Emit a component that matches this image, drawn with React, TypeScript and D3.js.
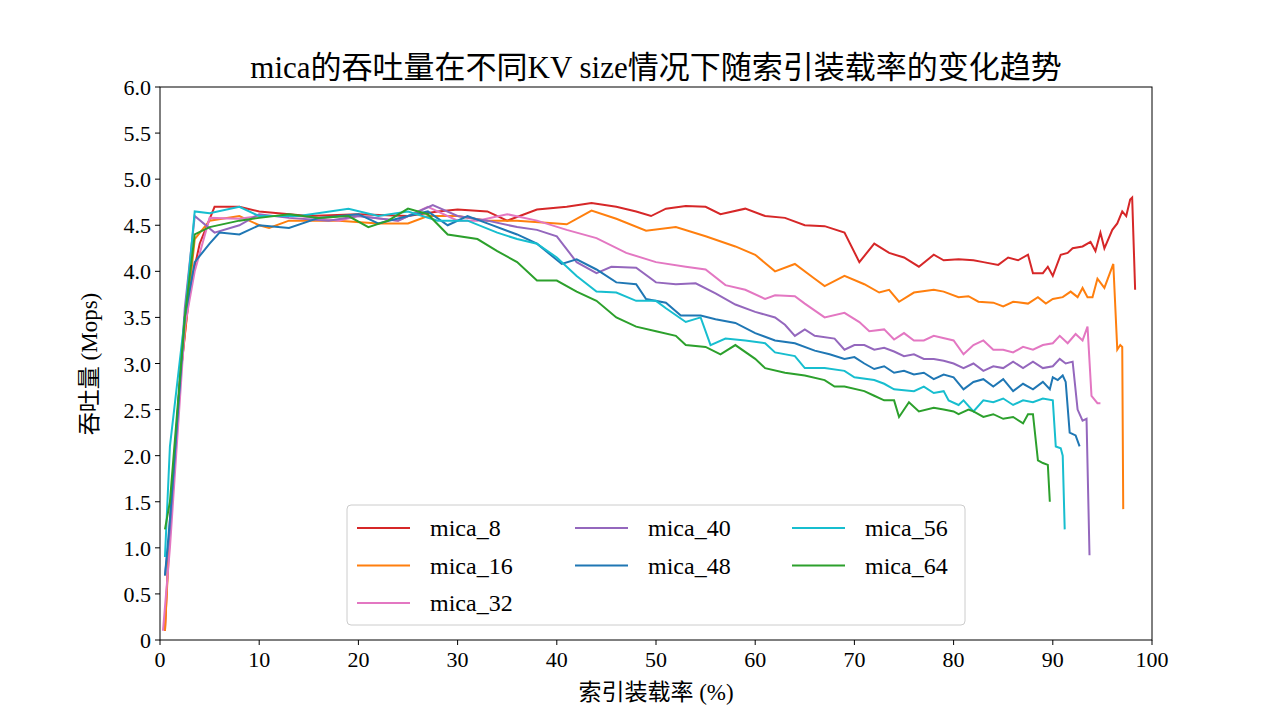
import React from 'react';
import * as d3 from 'd3';

type Pt = [number, number];

const mica8: Pt[] = [[0.5,0.1],[1,1.3],[2,2.8],[3,3.8],[4,4.3],[5.5,4.7],[8,4.7],[10,4.65],[15,4.6],[20,4.62],[25,4.6],[28,4.65],[30,4.67],[33,4.65],[35,4.55],[38,4.67],[41,4.7],[43.5,4.74],[46,4.7],[48,4.65],[49.5,4.6],[51,4.68],[53,4.71],[55,4.7],[56.5,4.62],[59,4.68],[61,4.6],[63,4.58],[65,4.5],[67,4.49],[69,4.42],[70.5,4.1],[72,4.3],[73.5,4.2],[75,4.15],[76.5,4.05],[78,4.18],[79,4.12],[80.5,4.13],[82,4.12],[83,4.1],[84.5,4.07],[85.5,4.15],[86.5,4.12],[87.5,4.18],[88,3.98],[89,3.98],[89.5,4.05],[90,3.95],[90.8,4.18],[91.5,4.2],[92,4.25],[93,4.27],[93.8,4.32],[94.3,4.22],[94.8,4.42],[95.2,4.25],[96,4.45],[96.5,4.52],[97,4.65],[97.4,4.6],[97.8,4.78],[98,4.8],[98.3,3.8]];
const mica16: Pt[] = [[0.5,0.1],[1,1.2],[2,2.8],[3.5,4.35],[5,4.55],[8,4.6],[10,4.5],[11,4.47],[13,4.55],[18,4.55],[22,4.52],[25,4.52],[27,4.6],[30,4.6],[33,4.55],[36,4.55],[40,4.52],[41,4.51],[43.5,4.66],[46,4.57],[49,4.44],[52,4.48],[55,4.38],[58,4.27],[60,4.18],[62,4.0],[64,4.08],[66,3.92],[67,3.84],[69,3.95],[71,3.86],[72.5,3.77],[73.5,3.8],[74.5,3.67],[76,3.77],[78,3.8],[79,3.78],[80.5,3.72],[81.5,3.73],[82.5,3.67],[84,3.66],[85,3.62],[86,3.67],[87.5,3.65],[88.5,3.72],[89.3,3.65],[90,3.7],[91,3.72],[91.8,3.78],[92.5,3.72],[93,3.82],[93.5,3.72],[94,3.72],[94.5,3.92],[95.2,3.82],[96.1,4.08],[96.5,3.15],[96.8,3.2],[97,3.18],[97.1,1.42]];
const mica32: Pt[] = [[0.3,0.1],[1,1.0],[2.5,3.4],[3.5,4.0],[5,4.58],[8,4.57],[10,4.6],[14,4.6],[18,4.55],[20,4.6],[24,4.55],[27,4.7],[30,4.55],[32,4.55],[35,4.62],[38,4.55],[41,4.45],[44,4.36],[47,4.2],[50,4.1],[53,4.05],[55,4.02],[57,3.85],[59,3.8],[61,3.7],[62,3.74],[64,3.73],[65,3.65],[67,3.5],[69,3.55],[70.5,3.45],[71.5,3.35],[73,3.37],[74,3.26],[75,3.33],[76,3.25],[77,3.25],[78,3.3],[80,3.25],[81,3.1],[82,3.2],[83,3.25],[84,3.15],[85,3.15],[86,3.12],[87,3.18],[88,3.15],[89,3.2],[90,3.22],[90.7,3.3],[91.5,3.22],[92.3,3.32],[93,3.25],[93.5,3.4],[93.9,2.65],[94.5,2.57],[94.8,2.57]];
const mica40: Pt[] = [[0.5,0.7],[1,1.2],[2.5,3.6],[3.5,4.6],[5.5,4.42],[8,4.5],[10,4.62],[13,4.58],[17,4.55],[20,4.6],[24,4.55],[27.5,4.72],[30,4.6],[33,4.55],[36,4.48],[38,4.45],[40,4.38],[42,4.1],[44,3.98],[45.5,4.05],[48,4.04],[50,3.88],[52,3.86],[54,3.87],[56,3.76],[58,3.64],[60,3.56],[62,3.5],[63,3.42],[64,3.3],[65,3.37],[66,3.3],[68,3.27],[69,3.15],[70,3.2],[71,3.2],[72,3.15],[73,3.17],[74,3.13],[75,3.08],[76,3.1],[77,3.05],[78,3.05],[79,3.03],[80,3.0],[81,2.95],[82,3.0],[83,2.92],[84,2.97],[85,2.95],[86,3.02],[87,2.95],[88,3.02],[89,2.95],[90,2.97],[90.7,3.05],[91.3,3.0],[92,3.02],[92.5,2.5],[93,2.38],[93.4,2.4],[93.7,0.92]];
const mica48: Pt[] = [[0.5,0.7],[1,1.3],[2.5,3.5],[3.5,4.1],[5,4.3],[6,4.42],[8,4.4],[10,4.5],[13,4.47],[16,4.58],[20,4.62],[22,4.52],[25,4.6],[27,4.65],[29,4.5],[31,4.6],[33,4.52],[36,4.4],[38,4.3],[40.5,4.08],[42,4.13],[44,4.02],[46,3.88],[48,3.86],[49,3.7],[51,3.66],[52.5,3.52],[54.5,3.52],[56,3.48],[58,3.44],[60,3.33],[62,3.25],[64,3.22],[66,3.14],[67.5,3.1],[69,3.05],[70,3.07],[71,3.0],[72,2.94],[73,2.97],[74,2.9],[75,2.92],[76,2.88],[77,2.9],[78,2.83],[79,2.88],[80,2.85],[81,2.72],[82,2.8],[83,2.83],[84,2.75],[85,2.83],[86,2.7],[87,2.78],[88,2.72],[89,2.8],[89.7,2.72],[90,2.85],[90.5,2.82],[91,2.87],[91.3,2.8],[91.7,2.25],[92.3,2.22],[92.7,2.1]];
const mica56: Pt[] = [[0.5,0.9],[1,2.1],[2.5,3.5],[3.5,4.65],[5,4.63],[8,4.7],[10,4.6],[14,4.6],[19,4.68],[22,4.6],[25,4.65],[28,4.55],[31,4.55],[34,4.42],[36,4.35],[38,4.3],[40,4.15],[42,3.95],[44,3.78],[46,3.77],[48,3.68],[50,3.68],[51,3.6],[53,3.45],[54.5,3.5],[55.5,3.2],[57,3.27],[59,3.25],[61,3.22],[62,3.12],[64,3.08],[65,2.95],[67,2.95],[69,2.92],[70,2.85],[72,2.82],[73,2.78],[74,2.72],[76,2.7],[77,2.75],[78,2.68],[79,2.7],[79.5,2.6],[80.5,2.55],[81,2.6],[82,2.48],[83,2.6],[84,2.58],[85,2.62],[86,2.55],[87,2.6],[88,2.58],[89,2.62],[90,2.6],[90.3,2.1],[90.8,2.08],[91,2.0],[91.2,1.2]];
const mica64: Pt[] = [[0.5,1.2],[1,1.5],[2.5,3.5],[3.5,4.4],[5,4.48],[8,4.55],[10,4.58],[13,4.62],[16,4.58],[19,4.6],[21,4.48],[23,4.55],[25,4.68],[27,4.62],[29,4.4],[32,4.35],[34,4.22],[36,4.1],[38,3.9],[40,3.9],[42,3.78],[44,3.68],[46,3.5],[48,3.4],[50,3.35],[52,3.3],[53,3.2],[55,3.18],[56.5,3.1],[58,3.2],[60,3.05],[61,2.95],[63,2.9],[65,2.87],[67,2.82],[68,2.75],[69,2.75],[71,2.7],[72,2.65],[73,2.6],[74,2.6],[74.5,2.42],[75.5,2.58],[76.5,2.48],[78,2.52],[79,2.5],[80,2.48],[80.5,2.45],[81.5,2.5],[82,2.48],[83,2.42],[84,2.45],[85,2.4],[86,2.42],[87,2.35],[87.5,2.45],[88,2.45],[88.5,1.95],[89,1.92],[89.5,1.9],[89.7,1.5]];

const seriesNames = ['mica_8', 'mica_16', 'mica_32', 'mica_40', 'mica_48', 'mica_56', 'mica_64'];
const seriesData = [mica8, mica16, mica32, mica40, mica48, mica56, mica64];
const colors = ['#d62728', '#ff7f0e', '#e377c2', '#9467bd', '#1f77b4', '#17becf', '#2ca02c'];
const xTicks = [0, 10, 20, 30, 40, 50, 60, 70, 80, 90, 100];
const yTicks = [0, 0.5, 1, 1.5, 2, 2.5, 3, 3.5, 4, 4.5, 5, 5.5, 6];

const font = '"Liberation Serif", "Noto Sans CJK SC", serif';
const margin = { left: 160, right: 1152, top: 87, bottom: 640 };

// legend slots: column, row
const legendSlots = [[0, 0], [0, 1], [0, 2], [1, 0], [1, 1], [2, 0], [2, 1]];
const legendCols = [357, 575, 792];

export default function App() {
  const x = d3.scaleLinear().domain([0, 100]).range([margin.left, margin.right]);
  const y = d3.scaleLinear().domain([0, 6]).range([margin.bottom, margin.top]);
  const line = d3.line<Pt>().x((d) => x(d[0])).y((d) => y(d[1]));

  return (
    <svg width={1280} height={720} style={{ position: 'absolute', left: 0, top: 0, background: '#fff' }} fontFamily={font}>
      <text x={656} y={78} textAnchor="middle" fontSize={31}>mica的吞吐量在不同KV size情况下随索引装载率的变化趋势</text>
      {seriesData.map((d, i) => (
        <path key={i} d={line(d) || ''} fill="none" stroke={colors[i]} strokeWidth={2} />
      ))}
      <rect x={margin.left} y={margin.top} width={margin.right - margin.left} height={margin.bottom - margin.top} fill="none" stroke="#000" strokeWidth={1} />
      {xTicks.map((t) => (
        <g key={t}>
          <line x1={x(t)} x2={x(t)} y1={margin.bottom} y2={margin.bottom + 5} stroke="#000" />
          <text x={x(t)} y={margin.bottom + 27} textAnchor="middle" fontSize={22}>{t}</text>
        </g>
      ))}
      {yTicks.map((t) => (
        <g key={t}>
          <line x1={margin.left - 5} x2={margin.left} y1={y(t)} y2={y(t)} stroke="#000" />
          <text x={margin.left - 9} y={y(t) + 8} textAnchor="end" fontSize={22}>{t === 0 ? '0' : t.toFixed(1)}</text>
        </g>
      ))}
      <text x={656} y={700} textAnchor="middle" fontSize={23}>索引装载率 (%)</text>
      <text transform="translate(97,364) rotate(-90)" textAnchor="middle" fontSize={23}>吞吐量 (Mops)</text>
      <rect x={347} y={505} width={618} height={120} rx={4} fill="#fff" fillOpacity={0.8} stroke="#ccc" />
      {seriesNames.map((n, i) => {
        const [c, r] = legendSlots[i];
        const lx = legendCols[c];
        const ly = 528 + r * 37.5;
        return (
          <g key={n}>
            <line x1={lx} x2={lx + 53} y1={ly} y2={ly} stroke={colors[i]} strokeWidth={2} />
            <text x={lx + 73} y={ly + 8} fontSize={24}>{n}</text>
          </g>
        );
      })}
    </svg>
  );
}
